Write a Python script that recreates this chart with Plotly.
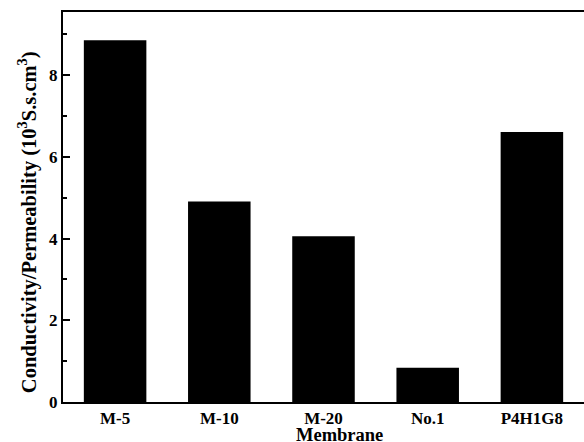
import plotly.graph_objects as go

membranes = ["M-5", "M-10", "M-20", "No.1", "P4H1G8"]
ratio = [8.86, 4.91, 4.06, 0.84, 6.61]

font_family = "Liberation Serif"

fig = go.Figure(
    go.Bar(
        x=membranes,
        y=ratio,
        width=0.6,
        marker=dict(color="black", line=dict(width=0)),
    )
)

fig.update_layout(
    width=584,
    height=442,
    margin=dict(l=63, r=0, t=12, b=40),
    paper_bgcolor="white",
    plot_bgcolor="white",
    showlegend=False,
    font=dict(family=font_family, color="black", size=16),
)

fig.update_xaxes(
    range=[-0.5, 4.5],
    showline=True,
    linecolor="black",
    linewidth=2,
    mirror=True,
    ticks="",
    showgrid=False,
    tickfont=dict(family=font_family, size=17, weight="bold"),
)

fig.update_yaxes(
    range=[0, 9.55],
    showline=True,
    linecolor="black",
    linewidth=2,
    mirror=False,
    ticks="inside",
    ticklen=7,
    tickwidth=1.5,
    tickcolor="black",
    tickvals=[0, 2, 4, 6, 8],
    ticktext=["0", "2", "4", "6", "8"],
    minor=dict(ticks="inside", ticklen=4, tickwidth=1.5, tickcolor="black",
               tickvals=[1, 3, 5, 7, 9]),
    showgrid=False,
    zeroline=False,
    tickfont=dict(family=font_family, size=17, weight="bold"),
)

# Axis titles placed as annotations for precise positioning
fig.add_annotation(
    text="<b>Membrane</b>",
    xref="paper", yref="paper",
    x=0.530, y=-0.084,
    xanchor="center", yanchor="middle",
    showarrow=False,
    font=dict(family=font_family, size=18.5, color="black"),
)
fig.add_annotation(
    text="<b>Conductivity/Permeability (10<sup>3</sup>S.s.cm<sup>3</sup>)</b>",
    xref="paper", yref="paper",
    x=-0.068, y=0.46,
    xanchor="center", yanchor="middle",
    textangle=-90,
    showarrow=False,
    font=dict(family=font_family, size=20.5, color="black"),
)

fig.write_html("out.html")
